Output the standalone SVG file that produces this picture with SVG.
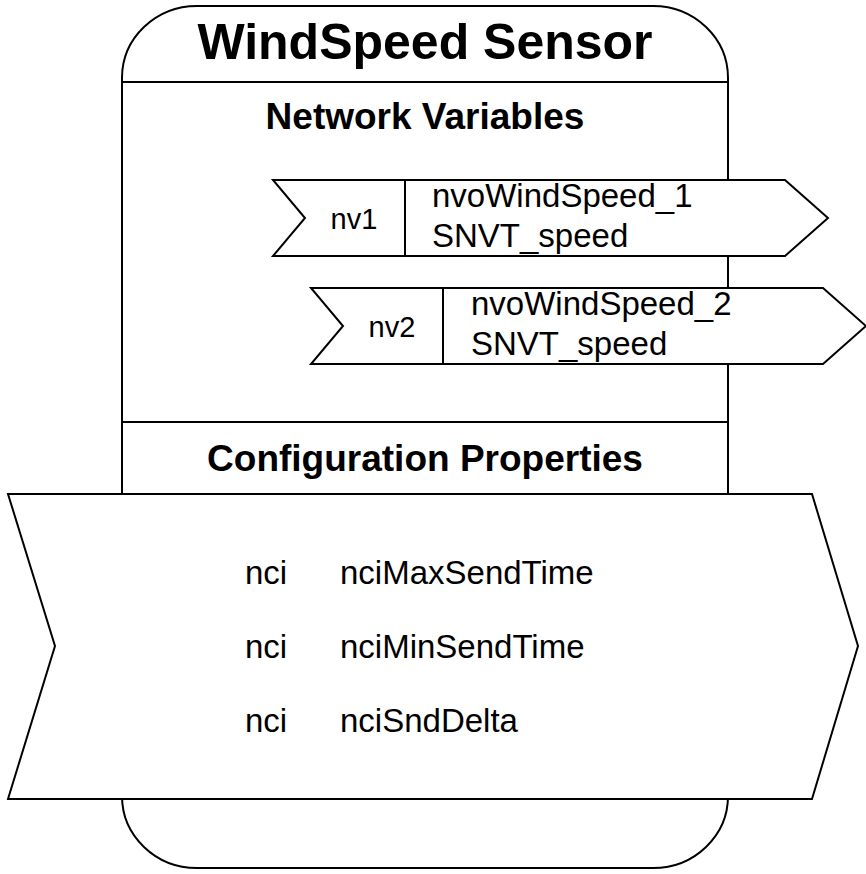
<svg xmlns="http://www.w3.org/2000/svg" width="866" height="874" viewBox="0 0 866 874">
<style>
.ln{fill:#fff;stroke:#000;stroke-width:2;stroke-linejoin:miter}
.dv{fill:none;stroke:#000;stroke-width:2}
.hb{font-family:"Liberation Sans",Arial,sans-serif;font-weight:bold;fill:#000;text-anchor:middle}
.t{font-family:"Liberation Sans",Arial,sans-serif;fill:#000}
.nv{font-size:33px}
.nc{font-size:33px}
.lb{font-size:29px;text-anchor:middle}
</style>
<rect width="866" height="874" fill="#fff"/>
<g id="sensor">
<path class="ln" d="M122,78 A75,72 0 0 1 197,6 L653,6 A75,72 0 0 1 728,78 L728,796 A75,72 0 0 1 653,868 L197,868 A75,72 0 0 1 122,796 Z"/>
<line class="dv" x1="122" y1="82" x2="728" y2="82"/>
<line class="dv" x1="122" y1="422" x2="728" y2="422"/>
<text class="hb" x="425" y="59" font-size="50">WindSpeed Sensor</text>
<text class="hb" x="425" y="129" font-size="37">Network Variables</text>
<text class="hb" x="425" y="471" font-size="37">Configuration Properties</text>
</g>
<g id="nv1">
<path class="ln" d="M273,180 L785,180 L828,218 L785,256 L273,256 L305,218 Z"/>
<line class="dv" x1="405" y1="180" x2="405" y2="256"/>
<text class="t lb" x="354" y="229">nv1</text>
<text class="t nv" x="432" y="207">nvoWindSpeed_1</text>
<text class="t nv" x="432" y="247">SNVT_speed</text>
</g>
<g id="nv2">
<path class="ln" d="M311,288 L823,288 L866,326 L823,364 L311,364 L343,326 Z"/>
<line class="dv" x1="443" y1="288" x2="443" y2="364"/>
<text class="t lb" x="392" y="337">nv2</text>
<text class="t nv" x="471" y="315">nvoWindSpeed_2</text>
<text class="t nv" x="471" y="355">SNVT_speed</text>
</g>
<g id="config">
<path class="ln" d="M8,494 L812,494 L858,646 L812,799 L8,799 L55,646 Z"/>
<text class="t nc" x="245" y="584">nci</text>
<text class="t nc" x="340" y="584">nciMaxSendTime</text>
<text class="t nc" x="245" y="658">nci</text>
<text class="t nc" x="340" y="658">nciMinSendTime</text>
<text class="t nc" x="245" y="732">nci</text>
<text class="t nc" x="340" y="732">nciSndDelta</text>
</g>
<g id="connectors"></g>
</svg>
